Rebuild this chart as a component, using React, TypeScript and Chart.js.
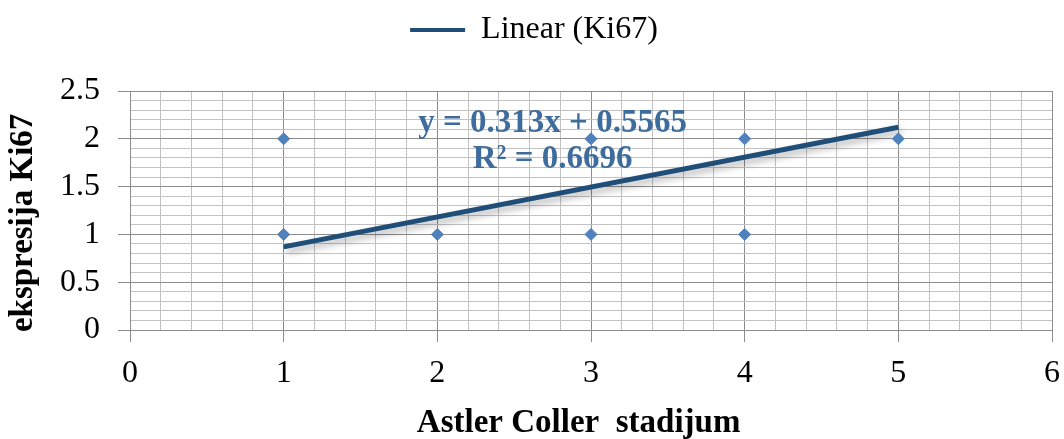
import React, { useEffect, useRef } from 'react';
import { Chart, registerables } from 'chart.js';

Chart.register(...registerables);

// ---- data ----
const stageX = [1, 1, 2, 3, 3, 4, 4, 5];
const ki67Y = [2, 1, 1, 2, 1, 2, 1, 2];
const trendX = [1, 5];
const trendY = [0.8695, 2.1215];
const xTickValues = [0, 1, 2, 3, 4, 5, 6];
const yTickValues = [0, 0.5, 1, 1.5, 2, 2.5];
const legendLabel = 'Linear (Ki67)';
const xTitle = 'Astler Coller  stadijum   ';
const yTitle = 'ekspresija Ki67   ';
const equationLines = ['y = 0.313x + 0.5565', 'R² = 0.6696'];
const equationX = 2.75;
const equationY = [2.16, 1.78];

const FONT = '"Liberation Serif", "Times New Roman", serif';
const LINE_COLOR = '#1F4E79';
const POINT_COLOR = '#4F81BD';
const EQ_COLOR = '#3E6C9C';
const MAJOR = '#8C8C8C';
const MINOR = '#C2C2C2';

const isMult = (v: number, step: number) => {
  const r = v / step;
  return Math.abs(r - Math.round(r)) < 1e-6;
};

const equationPlugin = {
  id: 'equationText',
  beforeDatasetsDraw(chart: any) {
    const { ctx, scales } = chart;
    ctx.save();
    ctx.font = `bold 33px ${FONT}`;
    ctx.fillStyle = EQ_COLOR;
    ctx.textAlign = 'center';
    ctx.textBaseline = 'middle';
    equationLines.forEach((t, i) => {
      ctx.fillText(t, scales.x.getPixelForValue(equationX), scales.y.getPixelForValue(equationY[i]));
    });
    ctx.restore();
  },
};

const shadowPlugin = {
  id: 'lineShadow',
  beforeDatasetDraw(chart: any, args: any) {
    if (args.index !== 1) return;
    const ctx = chart.ctx;
    ctx.save();
    ctx.shadowColor = 'rgba(0,0,0,0.3)';
    ctx.shadowBlur = 7;
    ctx.shadowOffsetX = 3;
    ctx.shadowOffsetY = 4;
  },
  afterDatasetDraw(chart: any, args: any) {
    if (args.index !== 1) return;
    chart.ctx.restore();
  },
};

export default function App() {
  const ref = useRef<HTMLCanvasElement | null>(null);

  useEffect(() => {
    document.body.style.margin = '0';
    const canvas = ref.current;
    if (!canvas) return;
    const chart = new Chart(canvas, {
      type: 'scatter',
      data: {
        datasets: [
          {
            label: 'Ki67',
            data: stageX.map((x, i) => ({ x, y: ki67Y[i] })),
            backgroundColor: POINT_COLOR,
            borderColor: POINT_COLOR,
            pointStyle: 'rectRot',
            pointRadius: 6,
            order: 0,
          },
          {
            type: 'line',
            label: legendLabel,
            data: trendX.map((x, i) => ({ x, y: trendY[i] })),
            borderColor: LINE_COLOR,
            backgroundColor: LINE_COLOR,
            borderWidth: 5,
            pointRadius: 0,
            showLine: true,
            fill: false,
            order: 1,
          } as any,
        ],
      },
      options: {
        animation: false,
        responsive: false,
        maintainAspectRatio: false,
        layout: { padding: { left: 4, right: 0, top: 6, bottom: 0 } },
        plugins: {
          tooltip: { enabled: false },
          title: {
            display: true,
            text: ' ',
            weight: 500,
            font: { size: 10 },
            padding: { top: 0, bottom: 23 },
          } as any,
          legend: {
            position: 'top',
            labels: {
              font: { family: FONT, size: 32 },
              color: '#000',
              boxWidth: 55,
              boxHeight: 4,
              padding: 8,
              generateLabels: () => [
                {
                  text: legendLabel,
                  fillStyle: LINE_COLOR,
                  strokeStyle: LINE_COLOR,
                  lineWidth: 0,
                  hidden: false,
                  datasetIndex: 1,
                  fontColor: '#000',
                } as any,
              ],
            },
          },
        },
        scales: {
          x: {
            type: 'linear',
            min: 0,
            max: 6,
            afterFit: (s: any) => {
              s.height = 109;
              s.paddingRight = 12;
            },
            afterBuildTicks: (s: any) => {
              const t: any[] = [];
              for (let i = 0; i <= 30; i++) t.push({ value: +(i * 0.2).toFixed(1) });
              s.ticks = t;
            },
            ticks: {
              autoSkip: false,
              maxRotation: 0,
              padding: 12,
              color: '#000',
              font: { family: FONT, size: 32 },
              callback: (v: any) => {
                const n = Number(v);
                return xTickValues.some((t) => Math.abs(t - n) < 1e-6) ? String(Math.round(n)) : '';
              },
            },
            grid: {
              color: (c: any) => (isMult(c.tick.value, 1) ? MAJOR : MINOR),
              tickColor: (c: any) => (isMult(c.tick.value, 1) ? MAJOR : 'rgba(0,0,0,0)'),
              tickLength: 12,
              lineWidth: 1,
            },
            border: { color: MAJOR, width: 1 },
            title: {
              display: true,
              text: xTitle,
              color: '#000',
              font: { family: FONT, size: 33, weight: 'bold' },
              padding: { top: 0, bottom: -4 },
            },
          },
          y: {
            type: 'linear',
            min: 0,
            max: 2.5,
            afterFit: (s: any) => {
              s.width = 126;
            },
            afterBuildTicks: (s: any) => {
              const t: any[] = [];
              for (let i = 0; i <= 25; i++) t.push({ value: +(i * 0.1).toFixed(1) });
              s.ticks = t;
            },
            ticks: {
              autoSkip: false,
              padding: 18,
              color: '#000',
              font: { family: FONT, size: 32 },
              callback: (v: any) => {
                const n = Number(v);
                return yTickValues.some((t) => Math.abs(t - n) < 1e-6) ? String(n) : '';
              },
            },
            grid: {
              color: (c: any) => (isMult(c.tick.value, 0.5) ? MAJOR : MINOR),
              tickColor: (c: any) => (isMult(c.tick.value, 0.5) ? MAJOR : 'rgba(0,0,0,0)'),
              tickLength: 12,
              lineWidth: 1,
            },
            border: { color: MAJOR, width: 1 },
            title: {
              display: true,
              text: yTitle,
              color: '#000',
              font: { family: FONT, size: 33, weight: 'bold' },
              padding: { top: 0, bottom: 0 },
            },
          },
        },
      },
      plugins: [equationPlugin, shadowPlugin],
    });
    return () => chart.destroy();
  }, []);

  return (
    <div style={{ width: 1064, height: 439, background: '#fff' }}>
      <canvas ref={ref} width={1064} height={439} style={{ display: 'block' }} />
    </div>
  );
}
